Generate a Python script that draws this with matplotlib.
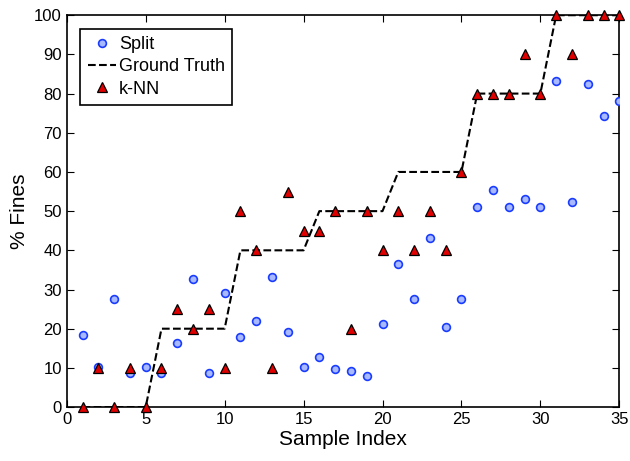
# Imports
import matplotlib
matplotlib.use("Agg")
import matplotlib.pyplot as plt

# Data
idx = list(range(1, 36))
split = [18.5, 10.3, 27.7, 8.6, 10.1, 8.8, 16.4, 32.6, 8.6, 29.1,
         17.8, 22.0, 33.2, 19.2, 10.3, 12.8, 9.8, 9.3, 7.9, 21.3,
         36.4, 27.6, 43.2, 20.5, 27.6, 51.0, 55.5, 51.0, 53.2, 51.0,
         83.3, 52.4, 82.5, 74.3, 78.0]
truth = [0, 0, 0, 0, 0, 20, 20, 20, 20, 20,
         40, 40, 40, 40, 40, 50, 50, 50, 50, 50,
         60, 60, 60, 60, 60, 80, 80, 80, 80, 80,
         100, 100, 100, 100, 100]
knn = [0, 10, 0, 10, 0, 10, 25, 20, 25, 10,
       50, 40, 10, 55, 45, 45, 50, 20, 50, 40,
       50, 40, 50, 40, 60, 80, 80, 80, 90, 80,
       100, 90, 100, 100, 100]

plt.rcParams["font.family"] = ["Liberation Sans", "DejaVu Sans"]

fig = plt.figure(figsize=(6.3, 4.61), dpi=100)
ax = fig.add_axes([0.106, 0.117, 0.877, 0.850])

ax.plot(idx, split, "o", ms=5.6, mfc="#a9b9ff", mec="#1a3cff", mew=1.2,
        label="Split", zorder=3)
ax.plot(idx, truth, "--k", lw=1.5, label="Ground Truth", zorder=2)
ax.plot(idx, knn, "^", ms=7, mfc="#e00000", mec="black", mew=0.9,
        label="k-NN", zorder=4, clip_on=False)

ax.set_xlim(0, 35)
ax.set_ylim(0, 100)
ax.set_xticks(range(0, 36, 5))
ax.set_yticks(range(0, 101, 10))
ax.tick_params(direction="in", top=True, right=True, labelsize=12, length=5)
for s in ax.spines.values():
    s.set_linewidth(1.2)

ax.set_xlabel("Sample Index", fontsize=15, labelpad=2)
ax.set_ylabel("% Fines", fontsize=15, labelpad=4)

leg = ax.legend(loc="upper left", fontsize=13, fancybox=False, framealpha=1,
                edgecolor="black", handlelength=1.6, handletextpad=0.15,
                borderpad=0.4, labelspacing=0.3, bbox_to_anchor=(0.0, 1.0),
                borderaxespad=0.75)
leg.get_frame().set_linewidth(1.2)

fig.savefig("out.png", dpi=100)
